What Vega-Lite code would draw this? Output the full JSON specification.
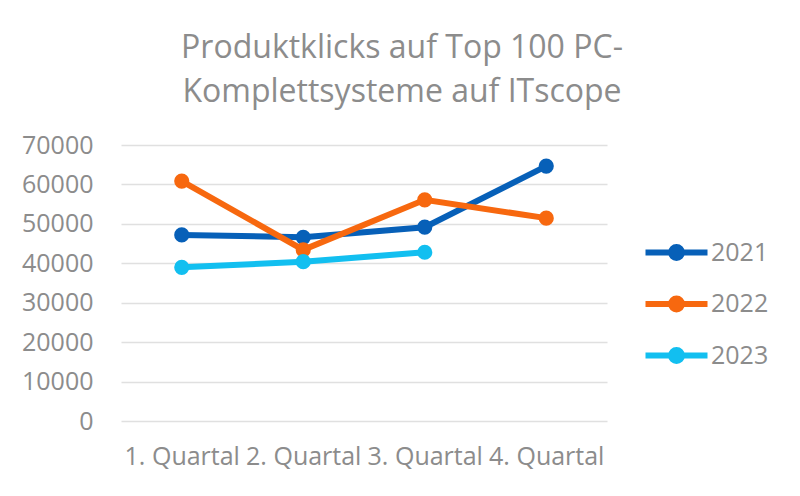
{
  "$schema": "https://vega.github.io/schema/vega-lite/v6.json",
  "autosize": {"type": "none"},
  "width": 486,
  "height": 276,
  "padding": {"left": 121, "top": 145, "right": 193, "bottom": 75},
  "background": "white",
  "title": {
    "text": ["Produktklicks auf Top 100 PC-", "Komplettsysteme auf ITscope"],
    "font": "Open Sans",
    "fontSize": 32,
    "fontWeight": "normal",
    "color": "#8c8c8c",
    "lineHeight": 44,
    "anchor": "middle",
    "dx": 38,
    "offset": 24
  },
  "data": {
    "values": [
      {"Quartal": "1. Quartal", "Jahr": "2021", "Klicks": 47200},
      {"Quartal": "2. Quartal", "Jahr": "2021", "Klicks": 46600},
      {"Quartal": "3. Quartal", "Jahr": "2021", "Klicks": 49150},
      {"Quartal": "4. Quartal", "Jahr": "2021", "Klicks": 64650},
      {"Quartal": "1. Quartal", "Jahr": "2022", "Klicks": 60850},
      {"Quartal": "2. Quartal", "Jahr": "2022", "Klicks": 43400},
      {"Quartal": "3. Quartal", "Jahr": "2022", "Klicks": 56100},
      {"Quartal": "4. Quartal", "Jahr": "2022", "Klicks": 51450},
      {"Quartal": "1. Quartal", "Jahr": "2023", "Klicks": 38980},
      {"Quartal": "2. Quartal", "Jahr": "2023", "Klicks": 40400},
      {"Quartal": "3. Quartal", "Jahr": "2023", "Klicks": 42800}
    ]
  },
  "mark": {
    "type": "line",
    "strokeWidth": 6,
    "point": {"filled": true, "size": 230, "opacity": 1}
  },
  "encoding": {
    "x": {
      "field": "Quartal",
      "type": "nominal",
      "scale": {"type": "point", "padding": 0.5},
      "axis": {
        "title": null,
        "labelAngle": 0,
        "ticks": false,
        "domain": false,
        "grid": false,
        "labelFont": "Open Sans",
        "labelFontSize": 25,
        "labelColor": "#8c8c8c",
        "labelPadding": 23
      }
    },
    "y": {
      "field": "Klicks",
      "type": "quantitative",
      "scale": {"domain": [0, 70000], "nice": false},
      "axis": {
        "title": null,
        "values": [0, 10000, 20000, 30000, 40000, 50000, 60000, 70000],
        "format": "d",
        "ticks": false,
        "domain": false,
        "gridColor": "#e0e0e0",
        "gridWidth": 1.5,
        "labelFont": "Open Sans",
        "labelFontSize": 25,
        "labelColor": "#8c8c8c",
        "labelPadding": 28
      }
    },
    "color": {
      "field": "Jahr",
      "type": "nominal",
      "scale": {"domain": ["2021", "2022", "2023"], "range": ["#0760b8", "#f7680f", "#12bff0"]},
      "legend": {
        "title": null,
        "orient": "none",
        "legendX": 537,
        "legendY": 89,
        "symbolType": "M-2,0H2M-0.35,0A0.35,0.35,0,1,1,0.35,0A0.35,0.35,0,1,1,-0.35,0Z",
        "symbolSize": 961,
        "symbolStrokeWidth": 6,
        "labelFont": "Open Sans",
        "labelFontSize": 25,
        "labelColor": "#8c8c8c",
        "labelOffset": 16,
        "rowPadding": 15.5,
        "encode": {
          "symbols": {
            "update": {
              "fill": {"scale": "color", "field": "value"},
              "stroke": {"scale": "color", "field": "value"},
              "opacity": {"value": 1}
            }
          }
        }
      }
    }
  },
  "config": {"view": {"stroke": null}}
}
